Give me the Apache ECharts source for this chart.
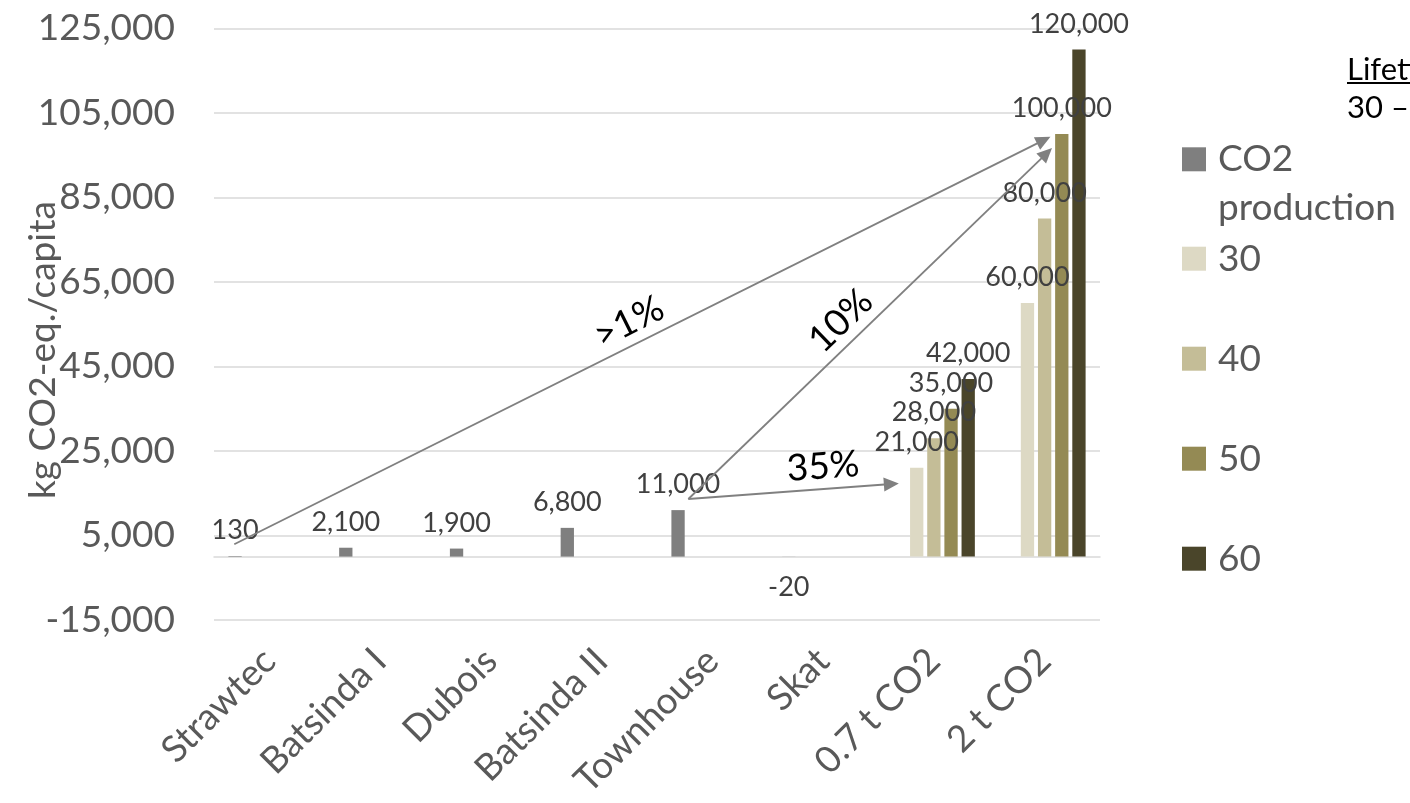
<!DOCTYPE html>
<html>
<head>
<meta charset="utf-8">
<script src="https://cdn.jsdelivr.net/npm/echarts@6/dist/echarts.min.js"></script>
<style>
  html, body { margin: 0; padding: 0; background: #ffffff; }
  #chart { width: 1410px; height: 803px; }
</style>
</head>
<body>
<div id="chart"></div>
<script>
// ---- data ----
const categories = ['Strawtec', 'Batsinda I', 'Dubois', 'Batsinda II', 'Townhouse', 'Skat', '0.7 t CO2', '2 t CO2'];
const co2Production = [130, 2100, 1900, 6800, 11000, -20, null, null];
const lifetime30 = [null, null, null, null, null, null, 21000, 60000];
const lifetime40 = [null, null, null, null, null, null, 28000, 80000];
const lifetime50 = [null, null, null, null, null, null, 35000, 100000];
const lifetime60 = [null, null, null, null, null, null, 42000, 120000];
const seriesNames = ['CO2 production', '30', '40', '50', '60'];
const yMin = -15000, yMax = 125000, yStep = 20000;

// comparison arrows, in data units (x = category position, y = kg CO2-eq./capita)
const arrowFrom = [[-0.317, 2910], [3.783, 13630], [3.783, 13630]];
const arrowTo = [[6.992, 98530], [7.018, 95430], [5.616, 17180]];
const arrowText = ['>1%', '10%', '35%'];

// ---- styling ----
const FONT = 'Lato, "Open Sans", sans-serif';
const colors = ['#7f7f7f', '#ddd9c4', '#c4bd97', '#948a54', '#4a452a'];
const arrowLabelPadding = [[0, 0, 0, 0], [0, 31, 0, 0], [0, 0, 0, 70]];
const legendRich = { t: { fontFamily: FONT, fontSize: 37, color: '#595959', lineHeight: 49, padding: [0, 0, 0, 7] } };

const fmt = v => Number(v).toLocaleString('en-US');

function barSeries(name, values, color) {
  return {
    name: name,
    type: 'bar',
    barGap: '29%',
    barCategoryGap: '26%',
    itemStyle: { color: color },
    label: {
      show: true,
      fontFamily: FONT,
      fontSize: 27,
      color: '#404040',
      formatter: p => fmt(p.value)
    },
    data: values.map(v => v == null ? null : {
      value: v,
      label: v < 0 ? { position: 'bottom', distance: 17 } : { position: 'top', distance: 12 }
    })
  };
}

const chart = echarts.init(document.getElementById('chart'), null, { renderer: 'canvas' });

const option = {
  animation: false,
  backgroundColor: '#ffffff',
  textStyle: { fontFamily: FONT },
  grid: { left: 214, right: 310, top: 28.3, bottom: 183, containLabel: false, outerBoundsMode: 'none' },
  legend: [
    {
      data: [seriesNames[0]],
      orient: 'vertical',
      left: 1182,
      top: 85.8,
      padding: 0,
      itemWidth: 24,
      itemHeight: 24,
      icon: 'rect',
      selectedMode: false,
      // leading blank line keeps the first text line level with the swatch
      formatter: () => '\n{t|CO2}\n{t|production}',
      textStyle: { fontFamily: FONT, fontSize: 37, color: '#595959', lineHeight: 49, rich: legendRich }
    },
    {
      data: seriesNames.slice(1),
      orient: 'vertical',
      left: 1182,
      top: 240.2,
      padding: 0,
      itemGap: 63,
      itemWidth: 24,
      itemHeight: 24,
      icon: 'rect',
      selectedMode: false,
      formatter: name => '{s|' + name + '}',
      textStyle: {
        fontFamily: FONT, fontSize: 37, color: '#595959',
        rich: { s: { fontFamily: FONT, fontSize: 37, color: '#595959', padding: [0, 0, 0, 7] } }
      }
    }
  ],
  xAxis: [
    {
      type: 'category',
      data: categories,
      axisLine: { onZero: true, lineStyle: { color: '#d9d9d9', width: 1.5 } },
      axisTick: { show: false },
      axisLabel: { interval: 0, rotate: 45, margin: 35, fontFamily: FONT, fontSize: 37, color: '#595959' }
    },
    {
      type: 'value',
      min: -0.5,
      max: 7.5,
      show: false
    }
  ],
  yAxis: {
    type: 'value',
    min: yMin,
    max: yMax,
    interval: yStep,
    name: 'kg CO2-eq./capita',
    nameLocation: 'middle',
    nameGap: 152,
    nameMoveOverlap: false,
    nameTextStyle: { fontFamily: FONT, fontSize: 37, color: '#595959', padding: [0, 52, 0, 0] },
    axisLine: { show: false },
    axisTick: { show: false },
    splitLine: { lineStyle: { color: '#d9d9d9', width: 1.5 } },
    axisLabel: { margin: 39, fontFamily: FONT, fontSize: 37, color: '#595959', formatter: v => fmt(v) }
  },
  series: [
    barSeries(seriesNames[0], co2Production, colors[0]),
    barSeries(seriesNames[1], lifetime30, colors[1]),
    barSeries(seriesNames[2], lifetime40, colors[2]),
    barSeries(seriesNames[3], lifetime50, colors[3]),
    barSeries(seriesNames[4], lifetime60, colors[4]),
    {
      name: 'arrows',
      type: 'line',
      xAxisIndex: 1,
      yAxisIndex: 0,
      data: [],
      silent: true,
      markLine: {
        silent: true,
        animation: false,
        symbol: ['none', 'triangle'],
        symbolSize: [14, 15],
        lineStyle: { color: '#808080', width: 1.8, type: 'solid' },
        label: {
          show: true,
          position: 'insideMiddleTop',
          distance: 4,
          fontFamily: FONT,
          fontSize: 37,
          color: '#000000'
        },
        data: arrowText.map((t, i) => [
          { coord: arrowFrom[i], label: { formatter: t, padding: arrowLabelPadding[i] } },
          { coord: arrowTo[i] }
        ])
      }
    }
  ],
  graphic: [
    {
      type: 'text',
      left: 1347,
      top: 54,
      style: { text: 'Lifetime', fontFamily: FONT, fontSize: 31, fill: '#000000' }
    },
    {
      type: 'line',
      shape: { x1: 1347, y1: 83, x2: 1460, y2: 83 },
      style: { stroke: '#000000', lineWidth: 2 }
    },
    {
      type: 'text',
      left: 1347,
      top: 92,
      style: { text: '30 – 60 years', fontFamily: FONT, fontSize: 31, fill: '#000000' }
    }
  ]
};

chart.setOption(option);
</script>
</body>
</html>
